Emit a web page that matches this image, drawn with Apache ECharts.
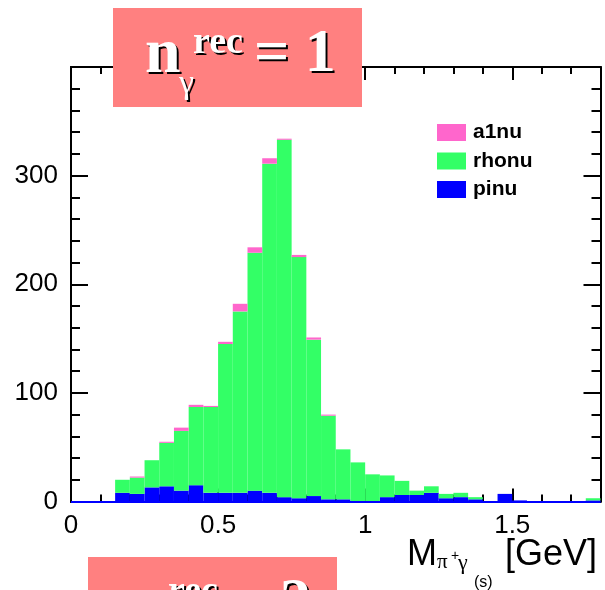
<!DOCTYPE html>
<html>
<head>
<meta charset="utf-8">
<script src="https://cdn.jsdelivr.net/npm/echarts@6/dist/echarts.min.js"></script>
<style>
html, body { margin: 0; padding: 0; background: #ffffff; }
#chart { width: 605px; height: 590px; }
</style>
</head>
<body>
<div id="chart"></div>
<script>
// Histogram bins of M(pi+ gamma) in GeV, 0.05 GeV wide, 0 to 1.8 GeV (lower edges)
const binLow = [
  '0.00', '0.05', '0.10', '0.15', '0.20', '0.25', '0.30', '0.35', '0.40',
  '0.45', '0.50', '0.55', '0.60', '0.65', '0.70', '0.75', '0.80', '0.85',
  '0.90', '0.95', '1.00', '1.05', '1.10', '1.15', '1.20', '1.25', '1.30',
  '1.35', '1.40', '1.45', '1.50', '1.55', '1.60', '1.65', '1.70', '1.75'
];

// Entries per bin, stacked bottom to top: pinu, rhonu, a1nu
const pinu = [
  0, 0, 0, 8, 7, 13, 14, 10, 15,
  8, 8, 8, 10, 8, 4, 3, 5, 2,
  2, 0, 0, 4, 6, 6, 8, 3, 4,
  2, 0, 7, 1, 0, 0, 0, 0, 1
];
const rhonu = [
  0, 0, 0, 12, 15, 25, 40, 55, 72,
  79, 137, 167, 219, 303, 329, 222, 144, 77,
  46, 36, 25, 20, 13, 4, 6, 4, 4,
  2, 0, 0, 0, 0, 0, 0, 0, 2
];
const a1nu = [
  0, 0, 0, 0, 1, 0, 1, 3, 2,
  1, 2, 7, 5, 5, 1, 2, 2, 1,
  0, 0, 0, 0, 0, 0, 0, 0, 0,
  0, 0, 0, 0, 0, 0, 0, 0, 0
];

const seriesNames = ['a1nu', 'rhonu', 'pinu'];
const xTickLabels = ['0', '0.5', '1', '1.5'];
const yTickLabels = ['0', '100', '200', '300'];

const colors = { a1nu: '#ff66cc', rhonu: '#33ff66', pinu: '#0000ff' };

const chart = echarts.init(document.getElementById('chart'), null, { renderer: 'canvas' });

const frameLine = { show: true, onZero: false, lineStyle: { color: '#000000', width: 2 } };
const sansLabel = { fontFamily: 'Liberation Sans', fontSize: 26, color: '#000000' };

// value axis used only for the frame ticks (fine 0.1 GeV ticks)
function fineX(position) {
  return {
    type: 'value', gridIndex: 0, position: position, min: 0, max: 1.8, interval: 0.1,
    axisLine: frameLine,
    axisTick: { show: true, inside: true, length: 7, lineStyle: { color: '#000', width: 2 } },
    axisLabel: { show: false }, splitLine: { show: false }
  };
}
// value axis with the long ticks and labels every 0.5 GeV
function coarseX(position, labels) {
  return {
    type: 'value', gridIndex: 0, position: position, min: 0, max: 1.8, interval: 0.5,
    axisLine: frameLine,
    axisTick: { show: true, inside: true, length: 13, lineStyle: { color: '#000', width: 2 } },
    axisLabel: labels ? Object.assign({
      show: true, margin: 11, showMaxLabel: false,
      formatter: function (v) { const s = String(v); return xTickLabels.indexOf(s) >= 0 ? s : ''; }
    }, sansLabel) : { show: false },
    splitLine: { show: false }
  };
}
function frameY(position, labels) {
  return {
    type: 'value', gridIndex: 0, position: position, min: 0, max: 400, interval: 100,
    axisLine: frameLine,
    axisTick: { show: true, inside: true, length: 17, lineStyle: { color: '#000', width: 2 } },
    minorTick: { show: true, splitNumber: 5, length: 9, lineStyle: { color: '#000', width: 2 } },
    axisLabel: labels ? Object.assign({
      show: true, margin: 13, showMaxLabel: false,
      formatter: function (v) { const s = String(v); return yTickLabels.indexOf(s) >= 0 ? s : ''; }
    }, sansLabel) : { show: false },
    splitLine: { show: false }
  };
}

// white serif text with a dark drop shadow, as used in the n_gamma^rec banners
function bannerText(text, x, y, font) {
  return [
    { type: 'text', x: x + 2, y: y + 2, z: 10, style: { text: text, font: font, fill: '#000000', verticalAlign: 'middle' } },
    { type: 'text', x: x, y: y, z: 11, style: { text: text, font: font, fill: '#ffffff', verticalAlign: 'middle' } }
  ];
}
function banner(left, top, value) {
  const dx = left - 113, dy = top - 8;
  return [
    { type: 'rect', z: 9, shape: { x: left, y: top, width: 249, height: 99 }, style: { fill: '#ff8080' } }
  ].concat(
    bannerText('n', 145 + dx, 55 + dy, 'bold 64px "Liberation Serif"'),
    bannerText('rec', 193 + dx, 43 + dy, 'bold 38px "Liberation Serif"'),
    bannerText('\u03b3', 179 + dx, 84 + dy, '34px "Liberation Serif"'),
    bannerText('= ' + value, 254 + dx, 55 + dy, 'bold 62px "Liberation Serif"')
  );
}

const axisTitle = [
  { type: 'text', x: 407, y: 555, style: { text: 'M', font: '36px "Liberation Sans"', fill: '#000', verticalAlign: 'middle' } },
  { type: 'text', x: 437, y: 562, style: { text: '\u03c0', font: '21px "Liberation Serif"', fill: '#000', verticalAlign: 'middle' } },
  { type: 'text', x: 451, y: 556, style: { text: '+', font: '14px "Liberation Sans"', fill: '#000', verticalAlign: 'middle' } },
  { type: 'text', x: 458, y: 563, style: { text: '\u03b3', font: '22px "Liberation Serif"', fill: '#000', verticalAlign: 'middle' } },
  { type: 'text', x: 474, y: 583, style: { text: '(s)', font: '16px "Liberation Sans"', fill: '#000', verticalAlign: 'middle' } },
  { type: 'text', x: 505, y: 555, style: { text: '[GeV]', font: '36px "Liberation Sans"', fill: '#000', verticalAlign: 'middle' } }
];

function barSeries(name, data) {
  const s = {
    name: name, type: 'bar', stack: 'mass', xAxisIndex: 0, yAxisIndex: 0,
    data: data, barCategoryGap: '0%', barGap: '0%',
    itemStyle: { color: colors[name], borderWidth: 0 },
    emphasis: { disabled: true }, animation: false
  };
  if (name === 'pinu') {
    // outline of the bottom histogram along empty bins
    s.markLine = {
      silent: true, symbol: ['none', 'none'], label: { show: false },
      lineStyle: { color: colors.pinu, width: 2, type: 'solid' },
      data: [{ yAxis: 0 }], animation: false
    };
  }
  return s;
}

chart.setOption({
  animation: false,
  backgroundColor: '#ffffff',
  grid: { left: 71, right: 4.5, top: 67, bottom: 88.5, containLabel: false },
  legend: {
    orient: 'vertical', left: 437, top: 122, padding: 0,
    data: seriesNames, icon: 'rect',
    itemWidth: 29, itemHeight: 17, itemGap: 7.5,
    textStyle: { fontFamily: 'Liberation Sans', fontWeight: 'bold', fontSize: 21, color: '#000', lineHeight: 17, padding: [0, 0, 0, 2] },
    selectedMode: false
  },
  xAxis: [
    { type: 'category', gridIndex: 0, data: binLow, boundaryGap: true, show: false },
    fineX('bottom'),
    coarseX('bottom', true),
    fineX('top'),
    coarseX('top', false)
  ],
  yAxis: [
    frameY('left', true),
    frameY('right', false)
  ],
  series: [
    barSeries('pinu', pinu),
    barSeries('rhonu', rhonu),
    barSeries('a1nu', a1nu)
  ],
  graphic: banner(113, 8, 1).concat(banner(88, 557, 2), axisTitle)
});
</script>
</body>
</html>
